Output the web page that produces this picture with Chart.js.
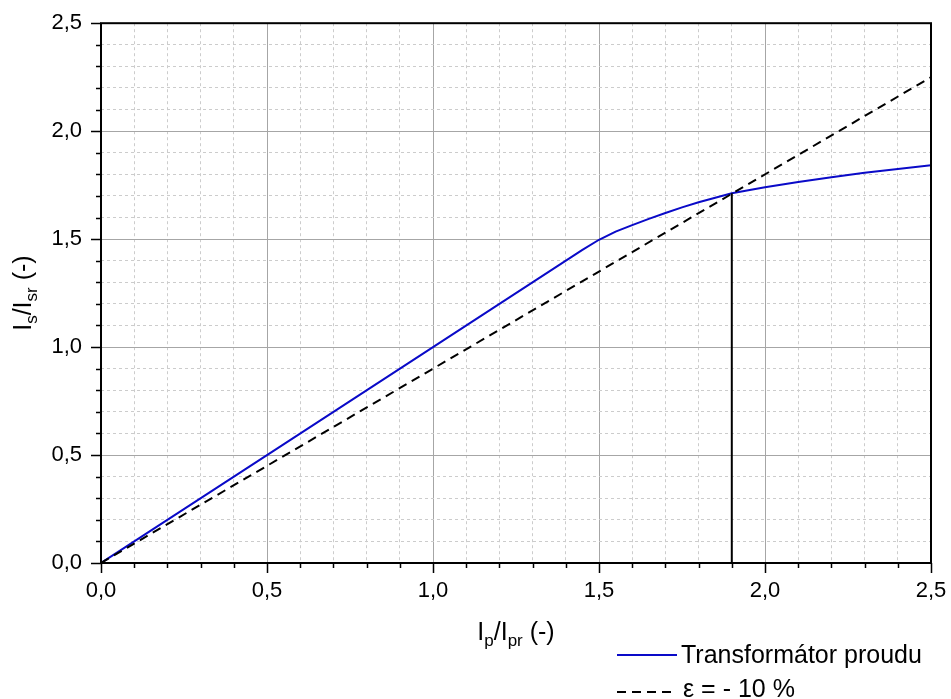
<!DOCTYPE html>
<html><head><meta charset="utf-8">
<script src="https://cdn.jsdelivr.net/npm/chart.js@4.4.1/dist/chart.umd.min.js"></script>
<style>html,body{margin:0;padding:0;background:#fff;}#wrap{position:relative;width:951px;height:699px;}</style>
</head><body><div id="wrap"><canvas id="c" width="951" height="699"></canvas></div>
<script>
// ---- data ----
const curveX = [0, 0.5, 1.0, 1.45, 1.5, 1.55, 1.6, 1.65, 1.7, 1.75, 1.8, 1.9, 2.0, 2.1, 2.2, 2.3, 2.4, 2.5];
const curveY = [0, 0.5, 1.0, 1.45, 1.497, 1.535, 1.565, 1.594, 1.621, 1.647, 1.671, 1.712, 1.74, 1.765, 1.787, 1.807, 1.825, 1.842];
const limitX = [0, 2.5];
const limitY = [0, 2.25];
const kneeX = [1.9, 1.9];
const kneeY = [0, 1.712];
const xTickLabels = ['0,0', '0,5', '1,0', '1,5', '2,0', '2,5'];
const yTickLabels = ['0,0', '0,5', '1,0', '1,5', '2,0', '2,5'];
const seriesNames = ['Transformátor proudu', 'ε = - 10 %'];

const FONT = '"Liberation Sans", Arial, sans-serif';
const toPts = (xs, ys) => xs.map((x, i) => ({x: x, y: ys[i]}));
const isMajor = v => Math.abs(v * 2 - Math.round(v * 2)) < 1e-6;
const labelFor = (arr) => (v) => isMajor(v) ? arr[Math.round(v * 2)] : '';

const gridColor = ctx => (ctx.tick && isMajor(ctx.tick.value)) ? '#a6a6a6' : '#cccccc';
const gridDash = ctx => (ctx.tick && !isMajor(ctx.tick.value)) ? [3, 3] : [];

function drawRich(ctx, parts, x, y, align) {
  const big = '25px ' + FONT, small = '17px ' + FONT;
  let w = 0;
  parts.forEach(p => { ctx.font = p[1] ? small : big; w += ctx.measureText(p[0]).width; });
  let cx = align === 'center' ? x - w / 2 : x;
  ctx.textAlign = 'left';
  ctx.textBaseline = 'alphabetic';
  parts.forEach(p => {
    ctx.font = p[1] ? small : big;
    ctx.fillText(p[0], cx, y + (p[1] ? 6 : 0));
    cx += ctx.measureText(p[0]).width;
  });
}

const decor = {
  id: 'decor',
  afterDraw(chart) {
    const ctx = chart.ctx, a = chart.chartArea;
    const xs = chart.scales.x, ys = chart.scales.y;
    ctx.save();
    ctx.strokeStyle = '#000';
    ctx.lineWidth = 1.5;
    ctx.beginPath();
    xs.ticks.forEach(t => {
      const p = Math.round(xs.getPixelForValue(t.value)) + 0.5;
      const len = isMajor(t.value) ? 10 : 5;
      ctx.moveTo(p, a.bottom); ctx.lineTo(p, a.bottom + len);
    });
    ys.ticks.forEach(t => {
      const p = Math.round(ys.getPixelForValue(t.value)) + 0.5;
      const len = isMajor(t.value) ? 10 : 5;
      ctx.moveTo(a.left, p); ctx.lineTo(a.left - len, p);
    });
    ctx.stroke();
    ctx.lineWidth = 2;
    ctx.strokeRect(a.left, a.top, a.right - a.left, a.bottom - a.top);

    ctx.fillStyle = '#000';
    // x title
    drawRich(ctx, [['I', false], ['p', true], ['/I', false], ['pr', true], [' (-)', false]], (a.left + a.right) / 2, 640, 'center');
    // y title
    ctx.save();
    ctx.translate(31, (a.top + a.bottom) / 2);
    ctx.rotate(-Math.PI / 2);
    drawRich(ctx, [['I', false], ['s', true], ['/I', false], ['sr', true], [' (-)', false]], 0, 0, 'center');
    ctx.restore();

    // legend
    ctx.lineWidth = 2;
    ctx.strokeStyle = '#0a0ac8';
    ctx.beginPath(); ctx.moveTo(617, 655); ctx.lineTo(677, 655); ctx.stroke();
    ctx.strokeStyle = '#000';
    ctx.setLineDash([9, 6]);
    ctx.beginPath(); ctx.moveTo(617, 692); ctx.lineTo(677, 692); ctx.stroke();
    ctx.setLineDash([]);
    ctx.font = '25px ' + FONT;
    ctx.textAlign = 'left'; ctx.textBaseline = 'alphabetic';
    ctx.fillText(seriesNames[0], 681, 663);
    ctx.fillText(seriesNames[1], 683, 697);
    ctx.restore();
  }
};

new Chart(document.getElementById('c'), {
  type: 'scatter',
  data: {
    datasets: [
      {label: seriesNames[1], data: toPts(limitX, limitY), showLine: true, borderColor: '#000', borderWidth: 2, borderDash: [9, 6], pointRadius: 0, tension: 0},
      {label: 'knee', data: toPts(kneeX, kneeY), showLine: true, borderColor: '#000', borderWidth: 2, pointRadius: 0, tension: 0},
      {label: seriesNames[0], data: toPts(curveX, curveY), showLine: true, borderColor: '#0a0ac8', borderWidth: 2, pointRadius: 0, tension: 0}
    ]
  },
  options: {
    responsive: false,
    animation: false,
    layout: {padding: {top: 20, right: 20, left: 0, bottom: 0}},
    plugins: {legend: {display: false}, tooltip: {enabled: false}},
    scales: {
      x: {
        type: 'linear', min: 0, max: 2.5,
        ticks: {stepSize: 0.1, autoSkip: false, maxRotation: 0, padding: 4, color: '#000', font: {family: FONT, size: 22}, callback: labelFor(xTickLabels)},
        grid: {color: gridColor, lineWidth: 1, tickLength: 11, tickColor: 'rgba(0,0,0,0)'},
        border: {display: false, dash: gridDash},
        afterFit: s => { s.height = 136; }
      },
      y: {
        type: 'linear', min: 0, max: 2.5,
        ticks: {stepSize: 0.1, autoSkip: false, padding: 10, color: '#000', font: {family: FONT, size: 22}, callback: labelFor(yTickLabels)},
        grid: {color: gridColor, lineWidth: 1, tickLength: 9, tickColor: 'rgba(0,0,0,0)'},
        border: {display: false, dash: gridDash},
        afterFit: s => { s.width = 101; }
      }
    }
  },
  plugins: [decor]
});
</script></body></html>
